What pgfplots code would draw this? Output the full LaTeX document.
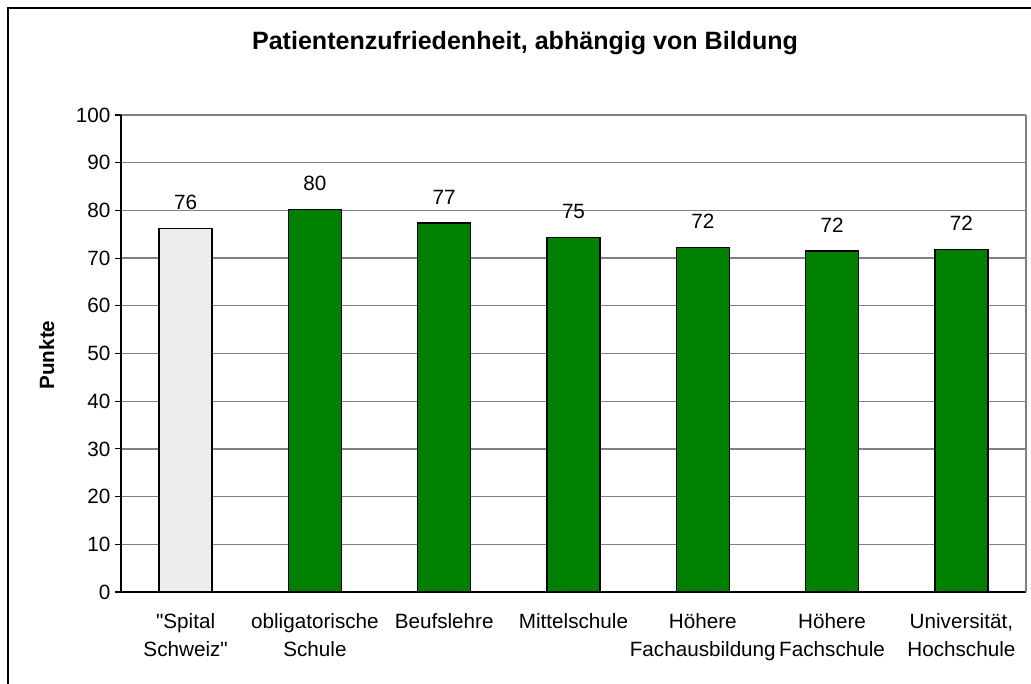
\documentclass[border=0pt]{standalone}
\usepackage{fontspec}
\setmainfont{Liberation Sans}[Ligatures=TeXOff]
\usepackage{pgfplots}
\pgfplotsset{compat=1.18}
\definecolor{barGreen}{HTML}{008000}
\definecolor{barGrey}{HTML}{EEEEEE}
\definecolor{gridGrey}{HTML}{808080}

\begin{document}
\begin{tikzpicture}
% page = 1031 x 684 px at 0.75pt/px, axis origin at px (121,592)
\useasboundingbox (-90.75pt,-69pt) rectangle (682.5pt,444pt);
\draw[black, line width=1.2pt] (-84.75pt,-70pt) -- (-84.75pt,438pt) -- (683pt,438pt);

\node[anchor=base, font=\bfseries\fontsize{18.8}{22}\selectfont]
  at (303pt,406.5pt) {Patientenzufriedenheit, abhängig von Bildung};

\begin{axis}[
  at={(0pt,0pt)}, anchor=south west,
  scale only axis, width=678.75pt, height=357.75pt,
  xmin=-0.5, xmax=6.5, ymin=0, ymax=100,
  ytick={0,10,...,100},
  xtick={0,...,6},
  xticklabels={{"Spital\\Schweiz"},{obligatorische\\Schule},{Beufslehre},{Mittelschule},{Höhere\\Fachausbildung},{Höhere\\Fachschule},{Universität,\\Hochschule}},
  minor xtick={-0.5,0.5,...,6.5},
  axis lines=left,
  axis line style={-, black, line width=1pt},
  tick align=outside,
  major tick length=4.5pt,
  minor tick length=4.5pt,
  xtick style={draw=none},
  minor x tick style={black, line width=0.8pt},
  ytick style={black, line width=0.8pt},
  ymajorgrids,
  grid style={gridGrey, line width=1pt},
  /pgf/number format/assume math mode=true,
  tick label style={font=\fontsize{15.5}{21}\selectfont},
  xticklabel style={align=center, yshift=-8pt},
  ybar, bar width=39.75pt,
  point meta=explicit symbolic,
  nodes near coords={\pgfplotspointmeta},
  nodes near coords style={font=\fontsize{15.5}{18}\selectfont, anchor=south, inner sep=0pt, yshift=13.5pt},
  clip=false,
]
\addplot[bar shift=0pt, fill=barGrey, draw=black, line width=1.1pt] coordinates {
  (0,76.2) [76]
};
\addplot[bar shift=0pt, fill=barGreen, draw=black, line width=1.1pt] coordinates {
  (1,80.2) [80]
  (2,77.4) [77]
  (3,74.3) [75]
  (4,72.2) [72]
  (5,71.5) [72]
  (6,71.8) [72]
};
\draw[gridGrey, line width=1pt] (rel axis cs:1,0) -- (rel axis cs:1,1);
\end{axis}
\node[rotate=90, anchor=center, font=\bfseries\fontsize{15.5}{18}\selectfont] at (-55.7pt,177.75pt) {Punkte};
\end{tikzpicture}
\end{document}
